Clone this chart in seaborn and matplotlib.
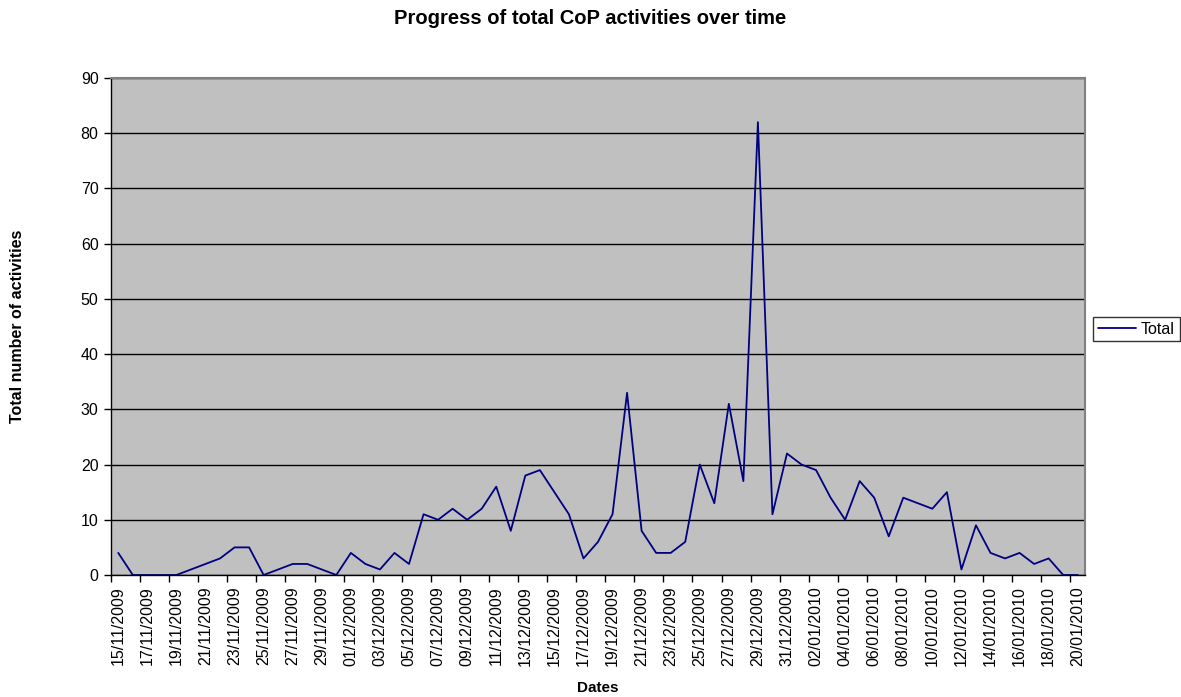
import numpy as np
import pandas as pd
import matplotlib
matplotlib.use("Agg")
import matplotlib.pyplot as plt
import seaborn as sns

# Daily totals of CoP activities, 15/11/2009 .. 20/01/2010
dates = pd.date_range("2009-11-15", "2010-01-20", freq="D")
totals = [
    4, 0, 0, 0, 0, 1, 2, 3, 5, 5,
    0, 1, 2, 2, 1, 0, 4, 2, 1, 4,
    2, 11, 10, 12, 10, 12, 16, 8, 18, 19,
    15, 11, 3, 6, 11, 33, 8, 4, 4, 6,
    20, 13, 31, 17, 82, 11, 22, 20, 19, 14,
    10, 17, 14, 7, 14, 13, 12, 15, 1, 9,
    4, 3, 4, 2, 3, 0, 0,
]
date_labels = [d.strftime("%d/%m/%Y") for d in dates]
y_ticks = list(range(0, 91, 10))

df = pd.DataFrame({"idx": np.arange(len(totals)), "Total": totals})

sns.set_theme(style="white")
plt.rcParams["font.family"] = ["Liberation Sans", "DejaVu Sans"]
plt.rcParams["text.color"] = "black"
plt.rcParams["xtick.color"] = "black"
plt.rcParams["ytick.color"] = "black"
plt.rcParams["axes.labelcolor"] = "black"

W, H = 1181, 697
fig = plt.figure(figsize=(W / 100, H / 100), dpi=100)
ax = fig.add_axes([111 / W, 1 - 575 / H, (1085 - 111) / W, (575 - 78) / H])
ax.set_facecolor("#C0C0C0")

sns.lineplot(data=df, x="idx", y="Total", ax=ax, color="#000080",
             linewidth=1.3, label="Total", legend=False)

n = len(totals)
ax.set_xlim(-0.5, n - 0.5)
ax.set_ylim(0, 90)
ax.set_yticks(y_ticks)
ax.set_yticklabels([str(v) for v in y_ticks], fontsize=11.5)

# tick marks on category boundaries, labels on every second category
ax.set_xticks(np.arange(-0.5, n - 1, 2))
ax.set_xticklabels([])
ax.set_xticks(np.arange(0, n, 2), minor=True)
ax.set_xticklabels(date_labels[::2], minor=True, rotation=90, fontsize=11.5)
ax.tick_params(axis="x", which="major", direction="out", length=5, width=1,
               color="black", bottom=True)
ax.tick_params(axis="x", which="minor", length=0, pad=8, bottom=True)
ax.tick_params(axis="y", direction="out", length=5, width=1, color="black",
               left=True, pad=4)

ax.yaxis.grid(True, color="black", linewidth=1)
ax.xaxis.grid(False)
ax.set_axisbelow(True)

for side in ("top", "right"):
    ax.spines[side].set_color("#808080")
    ax.spines[side].set_linewidth(1.5)
for side in ("left", "bottom"):
    ax.spines[side].set_color("black")
    ax.spines[side].set_linewidth(1)

ax.set_xlabel("")
ax.set_ylabel("")
fig.text(598 / W, 1 - 688 / H, "Dates", fontsize=11, fontweight="bold",
         ha="center", va="center")
fig.text(18 / W, 1 - 326 / H, "Total number of activities", fontsize=11.5,
         fontweight="bold", rotation=90, ha="center", va="center")

fig.text(590 / W, 1 - 19 / H, "Progress of total CoP activities over time",
         fontsize=14.5, fontweight="bold", ha="center", va="center")

handles, labels = ax.get_legend_handles_labels()
leg = fig.legend(handles, labels, loc="center left",
                 bbox_to_anchor=(1093 / W, 1 - 329 / H),
                 fontsize=11.5, frameon=True, fancybox=False, borderpad=0.3,
                 handlelength=2.4, handletextpad=0.3, borderaxespad=0)
leg.get_frame().set_edgecolor("black")
leg.get_frame().set_linewidth(1)

fig.savefig("out.png", dpi=100, facecolor="white")
